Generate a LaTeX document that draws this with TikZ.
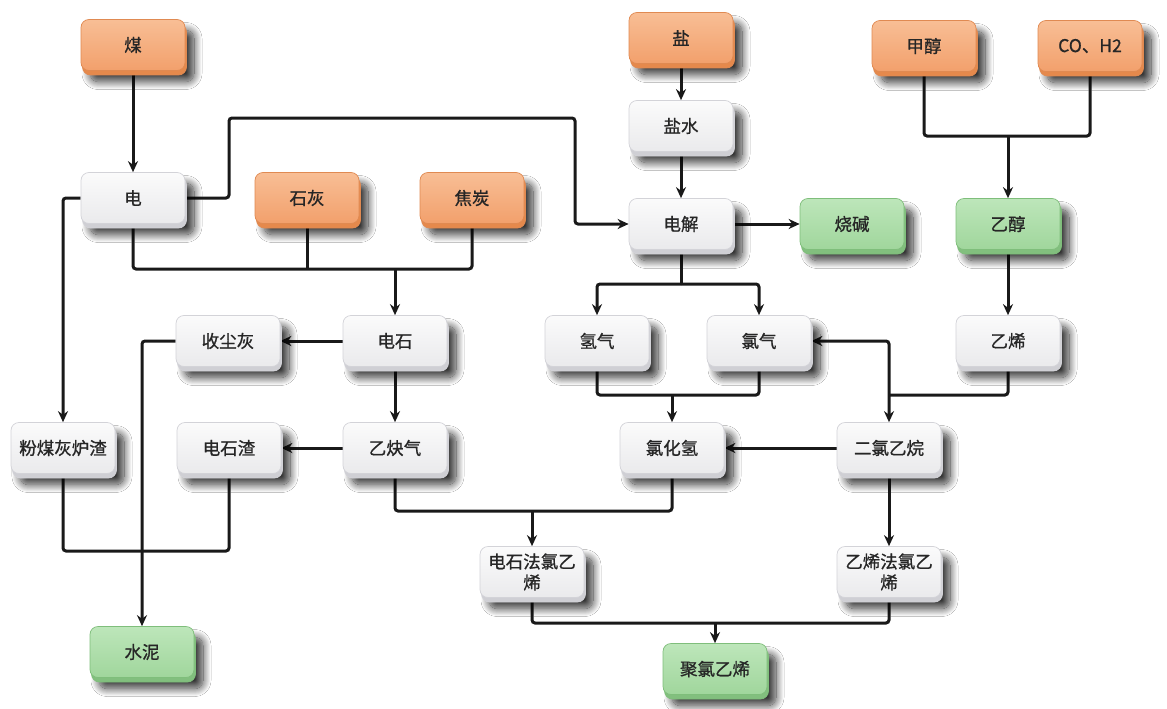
\documentclass[tikz,border=0pt]{standalone}
\usepackage{fontspec}
\setmainfont{Noto Sans CJK SC}
\newfontfamily\boxfont{Noto Sans CJK SC}[FakeBold=1]
\usetikzlibrary{arrows.meta,shadows,shadows.blur,backgrounds}
\definecolor{orTop}{HTML}{F8BE95}
\definecolor{orBot}{HTML}{F2A06C}
\definecolor{orEdge}{HTML}{E08A52}
\definecolor{orLip}{HTML}{E5894C}
\definecolor{grTop}{HTML}{BDE6BA}
\definecolor{grBot}{HTML}{A0D69C}
\definecolor{grEdge}{HTML}{7FBE7B}
\definecolor{grLip}{HTML}{82BF7E}
\definecolor{whTop}{HTML}{FBFBFB}
\definecolor{whBot}{HTML}{EAEAEC}
\definecolor{whEdge}{HTML}{D3D3D8}
\definecolor{whLip}{HTML}{CFCFD4}
\tikzset{
  box/.style={rounded corners=8pt, minimum width=104pt, minimum height=51pt,
    inner sep=2pt, align=center, font=\boxfont\fontsize{17.5}{21}\selectfont, text=black!85,
    line width=0.7pt,
    blur shadow={shadow xshift=9pt, shadow yshift=-11pt, shadow blur radius=8pt,
      shadow blur steps=16, shadow opacity=80}},
  orangebox/.style={box, top color=orTop, bottom color=orBot, draw=orEdge,
    general shadow={fill=orLip, draw=orEdge, shadow xshift=1.5pt, shadow yshift=-4.5pt}},
  greenbox/.style={box, top color=grTop, bottom color=grBot, draw=grEdge,
    general shadow={fill=grLip, draw=grEdge, shadow xshift=1.5pt, shadow yshift=-4.5pt}},
  whitebox/.style={box, top color=whTop, bottom color=whBot, draw=whEdge,
    general shadow={fill=whLip, draw=whEdge, shadow xshift=1.5pt, shadow yshift=-4.5pt}},
  conn/.style={line width=3pt, black!90, rounded corners=3pt},
  arr/.style={conn, -{Stealth[length=11pt,width=10pt]}},
  biarr/.style={conn, {Stealth[length=11pt,width=10pt]}-{Stealth[length=11pt,width=10pt]}}
}
\begin{document}
\begin{tikzpicture}[x=1pt,y=-1pt]
\useasboundingbox (0,0) rectangle (1167,709);
% nodes
\node[orangebox] (coal) at (133,45) {煤};
\node[whitebox] (dian) at (133,198) {电};
\node[orangebox] (shihui) at (307,198) {石灰};
\node[orangebox] (jiaotan) at (472,198) {焦炭};
\node[orangebox] (yan) at (681,38) {盐};
\node[whitebox] (yanshui) at (681,126) {盐水};
\node[whitebox] (dianjie) at (681,224) {电解};
\node[greenbox] (shaojian) at (852,224) {烧碱};
\node[greenbox] (yichun) at (1008,224) {乙醇};
\node[orangebox] (jiachun) at (924,46) {甲醇};
\node[orangebox] (co) at (1090,46) {CO、H2};
\node[whitebox] (dianshi) at (395,341) {电石};
\node[whitebox] (shouchen) at (228,341) {收尘灰};
\node[whitebox] (qingqi) at (597,341) {氢气};
\node[whitebox] (lvqi) at (759,341) {氯气};
\node[whitebox] (yixi) at (1008,341) {乙烯};
\node[whitebox] (fenmei) at (63,448) {粉煤灰炉渣};
\node[whitebox] (dianshizha) at (229,448) {电石渣};
\node[whitebox] (yiqueqi) at (395,448) {乙炔气};
\node[whitebox] (lvhuaqing) at (672,448) {氯化氢};
\node[whitebox] (erlv) at (889,448) {二氯乙烷};
\node[whitebox] (dsf) at (532,572) {电石法氯乙\\烯};
\node[whitebox] (yxf) at (889,572) {乙烯法氯乙\\烯};
\node[greenbox] (shuini) at (142,652) {水泥};
\node[greenbox] (pvc) at (715,669) {聚氯乙烯};
% junctions
\coordinate (j1) at (395,269);
\coordinate (j2) at (681,284);
\coordinate (j3) at (1008,136);
\coordinate (j4) at (142,551);
\coordinate (j5) at (672,395);
\coordinate (j6) at (889,395);
\coordinate (j7) at (532,511);
\coordinate (j8) at (715,623);
\coordinate (k1) at (229,118);
\coordinate (k2) at (575,118);
\begin{scope}[on background layer]
\fill[white] (0,0) rectangle (1167,709);
\draw[arr] (coal.south) -- (dian.north);
\draw[arr] (dian.east) -| (k1) -- (k2) |- (dianjie.west);
\draw[arr] (dian.west) -| (fenmei.north);
\draw[conn] (dian.south) |- (j1) -| (jiaotan.south);
\draw[conn] (shihui.south) -- (shihui.south |- j1);
\draw[arr] (j1) -- (dianshi.north);
\draw[arr] (yan.south) -- (yanshui.north);
\draw[arr] (yanshui.south) -- (dianjie.north);
\draw[arr] (dianjie.east) -- (shaojian.west);
\draw[conn] (dianjie.south) -- (j2);
\draw[arr] (j2) -| (qingqi.north);
\draw[arr] (j2) -| (lvqi.north);
\draw[conn] (jiachun.south) |- (j3) -| (co.south);
\draw[arr] (j3) -- (yichun.north);
\draw[arr] (yichun.south) -- (yixi.north);
\draw[arr] (dianshi.west) -- (shouchen.east);
\draw[arr] (dianshi.south) -- (yiqueqi.north);
\draw[arr] (shouchen.west) -| (shuini.north);
\draw[conn] (fenmei.south) |- (j4) -| (dianshizha.south);
\draw[arr] (yiqueqi.west) -- (dianshizha.east);
\draw[conn] (qingqi.south) |- (j5) -| (lvqi.south);
\draw[arr] (j5) -- (lvhuaqing.north);
\draw[biarr] (lvqi.east) -| (erlv.north);
\draw[conn] (yixi.south) |- (j6);
\draw[arr] (erlv.west) -- (lvhuaqing.east);
\draw[conn] (yiqueqi.south) |- (j7) -| (lvhuaqing.south);
\draw[arr] (j7) -- (dsf.north);
\draw[arr] (erlv.south) -- (yxf.north);
\draw[conn] (dsf.south) |- (j8) -| (yxf.south);
\draw[arr] (j8) -- (pvc.north);
\end{scope}
\end{tikzpicture}
\end{document}
